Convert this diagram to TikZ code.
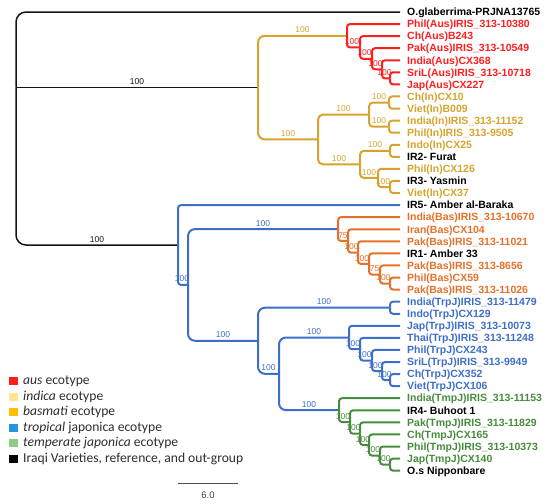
\documentclass[tikz,border=0pt]{standalone}
\usepackage{fontspec}
\setmainfont{Liberation Sans}
\newfontfamily\legfont{Carlito}
\definecolor{ausc}{RGB}{255,30,30}
\definecolor{indc}{RGB}{214,164,46}
\definecolor{basc}{RGB}{230,112,40}
\definecolor{japc}{RGB}{61,110,200}
\definecolor{tmpc}{RGB}{70,140,60}
\definecolor{rootc}{RGB}{20,20,20}
\definecolor{legtxt}{RGB}{45,45,45}
\definecolor{swind}{RGB}{255,228,150}
\definecolor{swbas}{RGB}{255,190,0}
\definecolor{swtrp}{RGB}{35,150,220}
\definecolor{swtmp}{RGB}{140,205,130}
\begin{document}
\begin{tikzpicture}[x=1pt,y=-1pt,
  leaf/.style={anchor=west, inner xsep=7pt, inner ysep=0pt, font=\fontsize{10.5}{12}\selectfont\bfseries, text height=7.5pt, text depth=0pt},
  blab/.style={font=\fontsize{8.5}{9}\selectfont, inner sep=0pt, text height=6.1pt, text depth=0pt},
  br/.style={line width=2pt, rounded corners=3pt},
  brbig/.style={line width=2pt, rounded corners=7pt},
  rootbr/.style={line width=1.5pt, rounded corners=10pt, draw=rootc},
  legtext/.style={anchor=west, inner sep=0pt, font=\legfont\fontsize{13.6}{15}\selectfont, text=legtxt}
]
\useasboundingbox (0,0) rectangle (550,504);

% ---------- internal node coordinates ----------
\coordinate (root) at (16,87.63);
\coordinate (AI) at (258,87.63);
\coordinate (a1) at (347,35.76);
\coordinate (a2) at (360,47.46);
\coordinate (a3) at (372,58.77);
\coordinate (a4) at (382,69.33);
\coordinate (a5) at (390,78.39);
\coordinate (iN) at (318,139.49);
\coordinate (iA) at (369,114.60);
\coordinate (i1) at (389,102.52);
\coordinate (i2) at (389,126.67);
\coordinate (iB) at (360,164.38);
\coordinate (i3) at (390,150.80);
\coordinate (i4) at (378,177.96);
\coordinate (i5) at (390,187.02);
\coordinate (J1) at (178,245.02);
\coordinate (J2) at (188,284.92);
\coordinate (b1) at (338,229.08);
\coordinate (b2) at (348,240.96);
\coordinate (b3) at (358,252.65);
\coordinate (b4) at (369,263.96);
\coordinate (b5) at (380,274.52);
\coordinate (b6) at (390,283.58);
\coordinate (J3) at (258,340.76);
\coordinate (t0) at (390,307.72);
\coordinate (J4) at (279,373.80);
\coordinate (t1) at (349,337.51);
\coordinate (t2) at (360,349.20);
\coordinate (t3) at (372,360.52);
\coordinate (t4) at (382,371.08);
\coordinate (t5) at (390,380.14);
\coordinate (m1) at (339,410.12);
\coordinate (m2) at (350,422.00);
\coordinate (m3) at (360,433.70);
\coordinate (m4) at (369,445.01);
\coordinate (m5) at (380,455.57);
\coordinate (m6) at (390,464.63);

% ---------- branch support labels (drawn under the lines) ----------
\node[blab, text=rootc] (s1) at (137,81.6) {100};
\node[blab, text=rootc] (s2) at (97,239.0) {100};
\node[blab, text=indc] (s3) at (302.5,29.8) {100};
\node[blab, text=indc] (s4) at (288,133.5) {100};
\node[blab, text=ausc] (s5) at (352,41.5) {100};
\node[blab, text=ausc] (s6) at (364.5,52.8) {100};
\node[blab, text=ausc] (s7) at (375.5,63.3) {100};
\node[blab, text=ausc] (s8) at (384.5,72.4) {100};
\node[blab, text=indc] (s9) at (343.5,108.6) {100};
\node[blab, text=indc] (s10) at (339,158.4) {100};
\node[blab, text=indc] (s11) at (379,96.5) {100};
\node[blab, text=indc] (s12) at (379,120.7) {100};
\node[blab, text=indc] (s13) at (375,144.8) {100};
\node[blab, text=indc] (s14) at (369,172.0) {100};
\node[blab, text=indc] (s15) at (383,181.0) {100};
\node[blab, text=japc] (s16) at (182,278.9) {100};
\node[blab, text=japc] (s17) at (263,223.1) {100};
\node[blab, text=japc] (s18) at (223,334.8) {100};
\node[blab, text=basc] (s19) at (343,235.0) {75};
\node[blab, text=basc] (s20) at (351.5,246.7) {100};
\node[blab, text=basc] (s21) at (362,258.0) {100};
\node[blab, text=basc] (s22) at (374.5,268.5) {75};
\node[blab, text=basc] (s23) at (383.5,277.6) {100};
\node[blab, text=japc] (s24) at (324,301.7) {100};
\node[blab, text=japc] (s25) at (268.5,367.8) {100};
\node[blab, text=japc] (s26) at (314,331.5) {100};
\node[blab, text=japc] (s27) at (309,404.1) {100};
\node[blab, text=japc] (s28) at (353,343.2) {100};
\node[blab, text=japc] (s29) at (364.5,354.5) {100};
\node[blab, text=japc] (s30) at (375.5,365.1) {100};
\node[blab, text=japc] (s31) at (384.5,374.1) {100};
\node[blab, text=tmpc] (s32) at (343,416.0) {100};
\node[blab, text=tmpc] (s33) at (353.5,427.7) {100};
\node[blab, text=tmpc] (s34) at (363,439.0) {100};
\node[blab, text=tmpc] (s35) at (373,449.6) {100};
\node[blab, text=tmpc] (s36) at (383.5,458.6) {100};

% ---------- leaves ----------
\node[leaf, text=black] (l1) at (400,12.00) {O.glaberrima-PRJNA13765};
\node[leaf, text=ausc] (l2) at (400,24.07) {Phil(Aus)IRIS\_313-10380};
\node[leaf, text=ausc] (l3) at (400,36.14) {Ch(Aus)B243};
\node[leaf, text=ausc] (l4) at (400,48.21) {Pak(Aus)IRIS\_313-10549};
\node[leaf, text=ausc] (l5) at (400,60.28) {India(Aus)CX368};
\node[leaf, text=ausc] (l6) at (400,72.35) {SriL(Aus)IRIS\_313-10718};
\node[leaf, text=ausc] (l7) at (400,84.42) {Jap(Aus)CX227};
\node[leaf, text=indc] (l8) at (400,96.49) {Ch(In)CX10};
\node[leaf, text=indc] (l9) at (400,108.56) {Viet(In)B009};
\node[leaf, text=indc] (l10) at (400,120.63) {India(In)IRIS\_313-11152};
\node[leaf, text=indc] (l11) at (400,132.70) {Phil(In)IRIS\_313-9505};
\node[leaf, text=indc] (l12) at (400,144.77) {Indo(In)CX25};
\node[leaf, text=black] (l13) at (400,156.84) {IR2- Furat};
\node[leaf, text=indc] (l14) at (400,168.91) {Phil(In)CX126};
\node[leaf, text=black] (l15) at (400,180.98) {IR3- Yasmin};
\node[leaf, text=indc] (l16) at (400,193.05) {Viet(In)CX37};
\node[leaf, text=black] (l17) at (400,205.12) {IR5- Amber al-Baraka};
\node[leaf, text=basc] (l18) at (400,217.19) {India(Bas)IRIS\_313-10670};
\node[leaf, text=basc] (l19) at (400,229.26) {Iran(Bas)CX104};
\node[leaf, text=basc] (l20) at (400,241.33) {Pak(Bas)IRIS\_313-11021};
\node[leaf, text=black] (l21) at (400,253.40) {IR1- Amber 33};
\node[leaf, text=basc] (l22) at (400,265.47) {Pak(Bas)IRIS\_313-8656};
\node[leaf, text=basc] (l23) at (400,277.54) {Phil(Bas)CX59};
\node[leaf, text=basc] (l24) at (400,289.61) {Pak(Bas)IRIS\_313-11026};
\node[leaf, text=japc] (l25) at (400,301.68) {India(TrpJ)IRIS\_313-11479};
\node[leaf, text=japc] (l26) at (400,313.75) {Indo(TrpJ)CX129};
\node[leaf, text=japc] (l27) at (400,325.82) {Jap(TrpJ)IRIS\_313-10073};
\node[leaf, text=japc] (l28) at (400,337.89) {Thai(TrpJ)IRIS\_313-11248};
\node[leaf, text=japc] (l29) at (400,349.96) {Phil(TrpJ)CX243};
\node[leaf, text=japc] (l30) at (400,362.03) {SriL(TrpJ)IRIS\_313-9949};
\node[leaf, text=japc] (l31) at (400,374.10) {Ch(TrpJ)CX352};
\node[leaf, text=japc] (l32) at (400,386.17) {Viet(TrpJ)CX106};
\node[leaf, text=tmpc] (l33) at (400,398.24) {India(TmpJ)IRIS\_313-11153};
\node[leaf, text=black] (l34) at (400,410.31) {IR4- Buhoot 1};
\node[leaf, text=tmpc] (l35) at (400,422.38) {Pak(TmpJ)IRIS\_313-11829};
\node[leaf, text=tmpc] (l36) at (400,434.45) {Ch(TmpJ)CX165};
\node[leaf, text=tmpc] (l37) at (400,446.52) {Phil(TmpJ)IRIS\_313-10373};
\node[leaf, text=tmpc] (l38) at (400,458.59) {Jap(TmpJ)CX140};
\node[leaf, text=black] (l39) at (400,470.66) {O.s Nipponbare};

% ---------- branches ----------
% root
\draw[rootbr] (root) |- (l1.west);
\draw[rootbr] (root) -- (AI);
\draw[rootbr] (root) |- (J1);
% aus + indica
\draw[brbig, indc] (AI) |- (a1);
\draw[brbig, indc] (AI) |- (iN);
\draw[br, ausc] (a1) |- (l2.west);
\draw[br, ausc] (a1) |- (a2);
\draw[br, ausc] (a2) |- (l3.west);
\draw[br, ausc] (a2) |- (a3);
\draw[br, ausc] (a3) |- (l4.west);
\draw[br, ausc] (a3) |- (a4);
\draw[br, ausc] (a4) |- (l5.west);
\draw[br, ausc] (a4) |- (a5);
\draw[br, ausc] (a5) |- (l6.west);
\draw[br, ausc] (a5) |- (l7.west);
% indica
\draw[br, indc, rounded corners=5pt] (iN) |- (iA);
\draw[br, indc, rounded corners=5pt] (iN) |- (iB);
\draw[br, indc, rounded corners=4pt] (iA) |- (i1);
\draw[br, indc, rounded corners=4pt] (iA) |- (i2);
\draw[br, indc] (i1) |- (l8.west);
\draw[br, indc] (i1) |- (l9.west);
\draw[br, indc] (i2) |- (l10.west);
\draw[br, indc] (i2) |- (l11.west);
\draw[br, indc, rounded corners=4pt] (iB) |- (i3);
\draw[br, indc, rounded corners=4pt] (iB) |- (i4);
\draw[br, indc] (i3) |- (l12.west);
\draw[br, indc] (i3) |- (l13.west);
\draw[br, indc] (i4) |- (l14.west);
\draw[br, indc] (i4) |- (i5);
\draw[br, indc] (i5) |- (l15.west);
\draw[br, indc] (i5) |- (l16.west);
% japonica
\draw[br, japc] (J1) |- (l17.west);
\draw[br, japc] (J1) |- (J2);
\draw[brbig, japc] (J2) |- (b1);
\draw[brbig, japc] (J2) |- (J3);
% basmati
\draw[br, basc] (b1) |- (l18.west);
\draw[br, basc] (b1) |- (b2);
\draw[br, basc] (b2) |- (l19.west);
\draw[br, basc] (b2) |- (b3);
\draw[br, basc] (b3) |- (l20.west);
\draw[br, basc] (b3) |- (b4);
\draw[br, basc] (b4) |- (l21.west);
\draw[br, basc] (b4) |- (b5);
\draw[br, basc] (b5) |- (l22.west);
\draw[br, basc] (b5) |- (b6);
\draw[br, basc] (b6) |- (l23.west);
\draw[br, basc] (b6) |- (l24.west);
% tropical
\draw[brbig, japc] (J3) |- (t0);
\draw[brbig, japc] (J3) |- (J4);
\draw[br, japc] (t0) |- (l25.west);
\draw[br, japc] (t0) |- (l26.west);
\draw[brbig, japc] (J4) |- (t1);
\draw[brbig, japc] (J4) |- (m1);
\draw[br, japc] (t1) |- (l27.west);
\draw[br, japc] (t1) |- (t2);
\draw[br, japc] (t2) |- (l28.west);
\draw[br, japc] (t2) |- (t3);
\draw[br, japc] (t3) |- (l29.west);
\draw[br, japc] (t3) |- (t4);
\draw[br, japc] (t4) |- (l30.west);
\draw[br, japc] (t4) |- (t5);
\draw[br, japc] (t5) |- (l31.west);
\draw[br, japc] (t5) |- (l32.west);
% temperate
\draw[br, tmpc] (m1) |- (l33.west);
\draw[br, tmpc] (m1) |- (m2);
\draw[br, tmpc] (m2) |- (l34.west);
\draw[br, tmpc] (m2) |- (m3);
\draw[br, tmpc] (m3) |- (l35.west);
\draw[br, tmpc] (m3) |- (m4);
\draw[br, tmpc] (m4) |- (l36.west);
\draw[br, tmpc] (m4) |- (m5);
\draw[br, tmpc] (m5) |- (l37.west);
\draw[br, tmpc] (m5) |- (m6);
\draw[br, tmpc] (m6) |- (l38.west);
\draw[br, tmpc] (m6) |- (l39.west);

% ---------- legend ----------
\fill[ausc] (8.5,377.3) rectangle (17.5,385.0);
\fill[swind] (8.5,392.8) rectangle (17.5,400.5);
\fill[swbas] (8.5,408.3) rectangle (17.5,416.0);
\fill[swtrp] (8.5,423.8) rectangle (17.5,431.5);
\fill[swtmp] (8.5,439.3) rectangle (17.5,447.0);
\fill[black] (8.5,454.8) rectangle (17.5,462.5);
\node[legtext] (g1) at (23,381.0) {\textit{aus} ecotype};
\node[legtext] (g2) at (23,396.5) {\textit{indica} ecotype};
\node[legtext] (g3) at (23,412.0) {\textit{basmati} ecotype};
\node[legtext] (g4) at (23,427.5) {\textit{tropical} japonica ecotype};
\node[legtext] (g5) at (23,443.0) {\textit{temperate japonica} ecotype};
\node[legtext] (g6) at (23,458.5) {Iraqi Varieties, reference, and out-group};

% ---------- scale bar ----------
\coordinate (sb1) at (178,483);
\coordinate (sb2) at (238,483);
\draw[line width=0.8pt, draw=black!70] (sb1) -- (sb2);
\node[font=\fontsize{9.5}{11}\selectfont, text=black!75, inner sep=0pt] (sbl) at (208,495) {6.0};
\end{tikzpicture}
\end{document}
